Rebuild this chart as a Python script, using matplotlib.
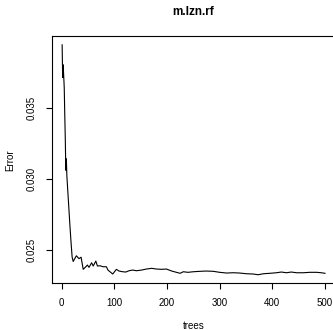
import matplotlib
matplotlib.use("Agg")
import matplotlib.pyplot as plt

plt.rcParams['font.family'] = ['Liberation Sans', 'DejaVu Sans']

title = "m.lzn.rf"
xlabel = "trees"
ylabel = "Error"

trees = [1, 2, 3, 4, 5, 6, 7, 8, 9, 10, 12, 14, 16, 18, 20, 22, 28, 33, 37, 41, 46, 49,
         52, 57, 60, 65, 68, 73, 79, 85, 88, 97, 104, 109, 116, 122, 128, 135, 142, 152,
         161, 171, 180, 190, 199, 209, 218, 225, 231, 240, 250, 263, 275, 288, 300, 313,
         326, 338, 351, 364, 373, 383, 395, 408, 417, 427, 436, 446, 459, 471, 484, 493, 500]
error = [0.0394, 0.0371, 0.0380, 0.0372, 0.0364, 0.0345, 0.0328, 0.0306, 0.0314, 0.0302,
         0.0290, 0.0278, 0.0266, 0.0255, 0.0245, 0.0242, 0.0246, 0.0244, 0.0245, 0.02365,
         0.02383, 0.02395, 0.02379, 0.02411, 0.02388, 0.02423, 0.02388, 0.0239, 0.02383,
         0.02383, 0.0236, 0.02332, 0.02365, 0.02353, 0.02348, 0.02346, 0.02355, 0.0236,
         0.02355, 0.0236, 0.02367, 0.02372, 0.02367, 0.02365, 0.02367, 0.02353, 0.02344,
         0.02337, 0.02348, 0.02344, 0.02348, 0.02351, 0.02353, 0.02351, 0.02344, 0.02339,
         0.02341, 0.02339, 0.02334, 0.02332, 0.02327, 0.02334, 0.02337, 0.02341, 0.02346,
         0.02341, 0.02346, 0.02341, 0.02341, 0.02344, 0.02344, 0.02341, 0.02337]

xticks = [0, 100, 200, 300, 400, 500]
yticks = [0.025, 0.030, 0.035]
ytick_labels = ["0.025", "0.030", "0.035"]

fig = plt.figure(figsize=(3.33, 3.30), dpi=100)
ax = fig.add_axes([0.155, 0.1424, 0.8525, 0.7485])
ax.plot(trees, error, color='black', linewidth=0.8)

ax.set_xlim(-18.96, 519.96)
ax.set_ylim(0.02269, 0.04002)
ax.set_xticks(xticks)
ax.set_xticklabels([str(t) for t in xticks])
ax.set_yticks(yticks)
ax.set_yticklabels(ytick_labels, rotation=90, va='center')
ax.tick_params(axis='both', length=4, width=0.8, labelsize=7, pad=7)
for s in ax.spines.values():
    s.set_linewidth(0.8)

fig.text(0.581, 0.963, title, ha='center', va='center', fontsize=8.5, fontweight='bold')
fig.text(0.581, 0.012, xlabel, ha='center', va='center', fontsize=7)
fig.text(0.03, 0.515, ylabel, ha='center', va='center', fontsize=7, rotation=90)

fig.savefig("out.png", dpi=100)
